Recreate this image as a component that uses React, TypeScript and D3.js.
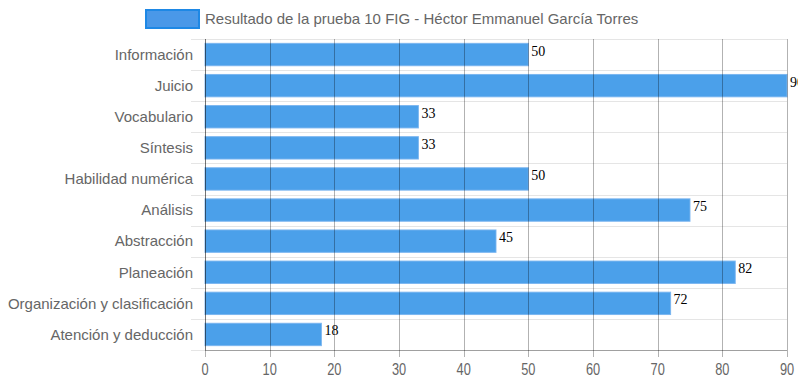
import React from "react";
import * as d3 from "d3";

const categories = [
  "Información",
  "Juicio",
  "Vocabulario",
  "Síntesis",
  "Habilidad numérica",
  "Análisis",
  "Abstracción",
  "Planeación",
  "Organización y clasificación",
  "Atención y deducción",
];
const values = [50, 90, 33, 33, 50, 75, 45, 82, 72, 18];
const xTicks = [0, 10, 20, 30, 40, 50, 60, 70, 80, 90];
const seriesLabel = "Resultado de la prueba 10 FIG - Héctor Emmanuel García Torres";

const W = 798;
const H = 385;
const left = 205;
const right = 787;
const top = 39;
const bottom = 350;

export default function App() {
  const x = d3.scaleLinear().domain([0, 90]).range([left, right]);
  const y = d3.scaleBand<string>().domain(categories).range([top, bottom]);
  const bw = y.bandwidth();
  const barH = bw * 0.72;
  const font = "'Liberation Sans', Arial, sans-serif";

  return (
    <svg
      width={W}
      height={H}
      style={{ position: "absolute", left: 0, top: 0, background: "#fff" }}
    >
      {/* legend */}
      <rect x={146} y={10} width={53} height={18} fill="#4a98e8" stroke="#1e88e5" strokeWidth={2} />
      <text x={205} y={24} fontFamily={font} fontSize={15} fill="#666">
        {seriesLabel}
      </text>

      {/* horizontal grid lines */}
      {d3.range(categories.length + 1).map((i) => {
        const yy = Math.round(top + i * bw) + 0.5;
        return (
          <line key={"h" + i} x1={191} x2={right} y1={yy} y2={yy} stroke="rgba(0,0,0,0.1)" strokeWidth={1} />
        );
      })}

      {/* bars */}
      {categories.map((c, i) => {
        const yc = (y(c) as number) + bw / 2;
        return (
          <rect
            key={"b" + c}
            x={x(0)}
            y={yc - barH / 2}
            width={x(values[i]) - x(0)}
            height={barH}
            fill="rgba(30,136,229,0.8)"
            stroke="rgba(120,180,240,0.9)"
            strokeWidth={1}
          />
        );
      })}

      {/* vertical grid lines */}
      {xTicks.map((t) => {
        const xx = Math.round(x(t)) + 0.5;
        return (
          <line key={"v" + t} x1={xx} x2={xx} y1={top} y2={357} stroke="rgba(0,0,0,0.3)" strokeWidth={1} />
        );
      })}
      {/* axis lines */}
      <line x1={left + 0.5} x2={left + 0.5} y1={top} y2={bottom} stroke="rgba(0,0,0,0.35)" />
      <line x1={left} x2={right} y1={bottom + 0.5} y2={bottom + 0.5} stroke="rgba(0,0,0,0.3)" />

      {/* value labels */}
      {categories.map((c, i) => {
        const yc = (y(c) as number) + bw / 2;
        return (
          <text
            key={"l" + c}
            x={x(values[i]) + 3}
            y={yc + 1}
            fontFamily="'Liberation Serif', 'Times New Roman', serif"
            fontSize={14}
            fill="#000"
          >
            {values[i]}
          </text>
        );
      })}

      {/* y labels */}
      {categories.map((c) => {
        const yc = (y(c) as number) + bw / 2;
        return (
          <text
            key={"y" + c}
            x={193}
            y={yc}
            dy="0.35em"
            textAnchor="end"
            fontFamily={font}
            fontSize={15}
            fill="#666"
          >
            {c}
          </text>
        );
      })}

      {/* x tick labels */}
      {xTicks.map((t) => (
        <text
          key={"x" + t}
          transform={`translate(${x(t)},${369}) scale(0.8,1)`}
          dy="0.35em"
          textAnchor="middle"
          fontFamily={font}
          fontSize={16}
          fill="#666"
        >
          {t}
        </text>
      ))}
    </svg>
  );
}
